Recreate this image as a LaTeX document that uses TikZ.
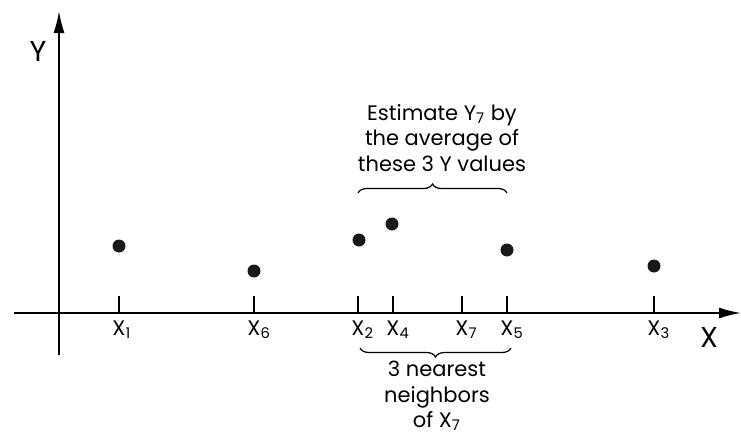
\documentclass[tikz,border=0pt]{standalone}
\usepackage{fontspec}
\setmainfont{Poppins}
\usepackage{tikz}
\usetikzlibrary{calc, arrows.meta, positioning, decorations.pathreplacing}

\begin{document}
\begin{tikzpicture}[
    x=0.5pt, y=-0.5pt,
    every node/.style={font=\fontsize{10.5}{12.75}\selectfont},
    axis/.style={line width=0.9pt, -{Latex[length=11pt,width=5.5pt]}},
    tick/.style={line width=0.9pt},
    dot/.style={circle, fill=black!90, inner sep=0pt, minimum size=6.5pt},
    lbl/.style={anchor=north, inner sep=0pt},
    brace/.style={decorate, decoration={brace, amplitude=4.5pt}, line width=0.6pt},
  ]
  \useasboundingbox (0,0) rectangle (741,434);

  % axes
  \coordinate (o)  at (59,313);
  \coordinate (xl) at (14,313);
  \coordinate (xr) at (741,313);
  \coordinate (yb) at (59,355);
  \coordinate (yt) at (59,11);
  \draw[axis] (xl) -- (xr);
  \draw[axis] (yb) -- (yt);
  \node (ylab) at (38,51) {\Large Y};
  \node (xlab) at (709,337) {\Large X};

  % ticks on the X axis
  \foreach \name/\xx/\sub in {t1/119/1, t6/254/6, t2/358/2, t4/393/4, t7/462/7, t5/507/5, t3/654/3} {
    \coordinate (\name) at (\xx,313);
    \draw[tick] (\name) -- ++(0,-17);
    \node[lbl] (l\name) at ($(\name)+(0,7)$) {X\rlap{\textsubscript{\sub}}};
  }

  % observed points
  \node[dot] (p1) at (119,246) {};
  \node[dot] (p6) at (254,271) {};
  \node[dot] (p2) at (359,240) {};
  \node[dot] (p4) at (392,224) {};
  \node[dot] (p5) at (507,250) {};
  \node[dot] (p3) at (654,266) {};

  % braces
  \coordinate (ba) at (358,193);
  \coordinate (bb) at (507,193);
  \draw[brace] (ba) -- (bb);
  \node[align=center] (est) at (442,138)
    {Estimate Y\textsubscript{7} by\\the average of\\these 3 Y values};

  \coordinate (bc) at (511,348);
  \coordinate (bd) at (360,348);
  \draw[brace] (bc) -- (bd);
  \node[align=center] (nbr) at (437,396)
    {3 nearest\\neighbors\\of X\textsubscript{7}};
\end{tikzpicture}
\end{document}
